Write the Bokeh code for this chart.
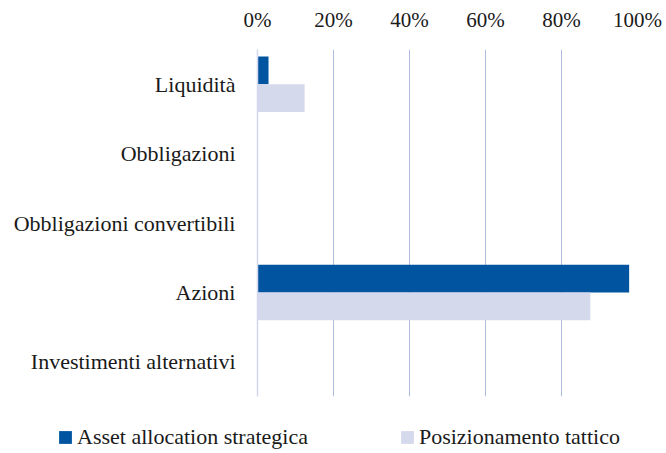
from bokeh.plotting import figure
from bokeh.layouts import column, row
from bokeh.models import FactorRange, Range1d, FixedTicker, NumeralTickFormatter, Legend, LegendItem, ColumnDataSource
from bokeh.transform import dodge
from bokeh.embed import file_html
from bokeh.resources import INLINE

categories = ["Liquidità", "Obbligazioni", "Obbligazioni convertibili", "Azioni", "Investimenti alternativi"]
series_names = ["Asset allocation strategica", "Posizionamento tattico"]
strategica = [0.029, 0.0, 0.0, 0.978, 0.0]
tattico = [0.124, 0.0, 0.0, 0.876, 0.0]
x_ticks = [0, 0.2, 0.4, 0.6, 0.8, 1.0]

FONT = "Liberation Serif"
C_STRAT = "#0054A0"
C_TATT = "#D5D9EC"
GRID = "#AEBBDF"
AXIS = "#D3D8EE"
TXT = "#1a1a1a"

src = ColumnDataSource(dict(cat=categories, s=strategica, t=tattico))

p = figure(width=666, height=410, output_backend="svg", toolbar_location=None,
           y_range=FactorRange(factors=list(reversed(categories))),
           x_range=Range1d(0, 1), x_axis_location="above",
           min_border_left=257, min_border_right=29, min_border_top=49, min_border_bottom=14)
p.outline_line_color = None

p.hbar(y=dodge("cat", 0.2, range=p.y_range), right="s", left=0, height=0.4,
       source=src, color=C_STRAT, line_color=None)
p.hbar(y=dodge("cat", -0.2, range=p.y_range), right="t", left=0, height=0.4,
       source=src, color=C_TATT, line_color=None)

# x axis (top)
xa = p.xaxis[0]
xa.ticker = FixedTicker(ticks=x_ticks)
xa.formatter = NumeralTickFormatter(format="0%")
xa.axis_line_color = None
xa.major_tick_line_color = None
xa.minor_tick_line_color = None
xa.major_label_text_font = FONT
xa.major_label_text_font_size = "21px"
xa.major_label_text_color = TXT
xa.major_label_standoff = 12

# y axis
ya = p.yaxis[0]
ya.axis_line_color = AXIS
ya.axis_line_width = 1.5
ya.major_tick_line_color = None
ya.minor_tick_line_color = None
ya.major_label_text_font = FONT
ya.major_label_text_font_size = "22px"
ya.major_label_text_color = TXT
ya.major_label_standoff = 16

p.xgrid.grid_line_color = GRID
p.xgrid.ticker = FixedTicker(ticks=x_ticks[1:])
p.ygrid.grid_line_color = None

# small boundary ticks on the category axis
p.ray(x=0, y=dodge("cat", -0.5, range=p.y_range), length=6, length_units="screen",
      angle=3.14159, source=src, line_color=AXIS, line_width=1.5)
p.ray(x=0, y=dodge("cat", 0.5, range=p.y_range), length=6, length_units="screen",
      angle=3.14159, source=ColumnDataSource(dict(cat=categories[:1])), line_color=AXIS, line_width=1.5)

# legend strip below (separate plot so the legend can span the full width)
lp = figure(width=666, height=43, output_backend="svg", toolbar_location=None,
            x_range=Range1d(0, 1), y_range=Range1d(0, 1),
            x_axis_location=None, y_axis_location=None,
            min_border_left=0, min_border_right=0, min_border_top=0, min_border_bottom=0)
lp.outline_line_color = None
lp.xgrid.grid_line_color = None
lp.ygrid.grid_line_color = None
proxy = ColumnDataSource(dict(y=[-1.0], right=[0.0]))
d1 = lp.hbar(y="y", right="right", left=0, height=0.4, source=proxy, color=C_STRAT, line_color=None)
d2 = lp.hbar(y="y", right="right", left=0, height=0.4, source=proxy, color=C_TATT, line_color=None)

legend = Legend(items=[LegendItem(label=series_names[0], renderers=[d1]),
                       LegendItem(label=series_names[1], renderers=[d2])],
                orientation="horizontal", location=(57, 3),
                label_text_font=FONT, label_text_font_size="22px", label_text_color=TXT,
                glyph_width=16, glyph_height=16, label_standoff=4, spacing=91,
                label_height=22, border_line_color=None, background_fill_alpha=0,
                padding=0, margin=0)
lp.add_layout(legend, "center")

layout = column(p, row(lp), spacing=0)
open("out.html", "w").write(file_html(layout, INLINE))
